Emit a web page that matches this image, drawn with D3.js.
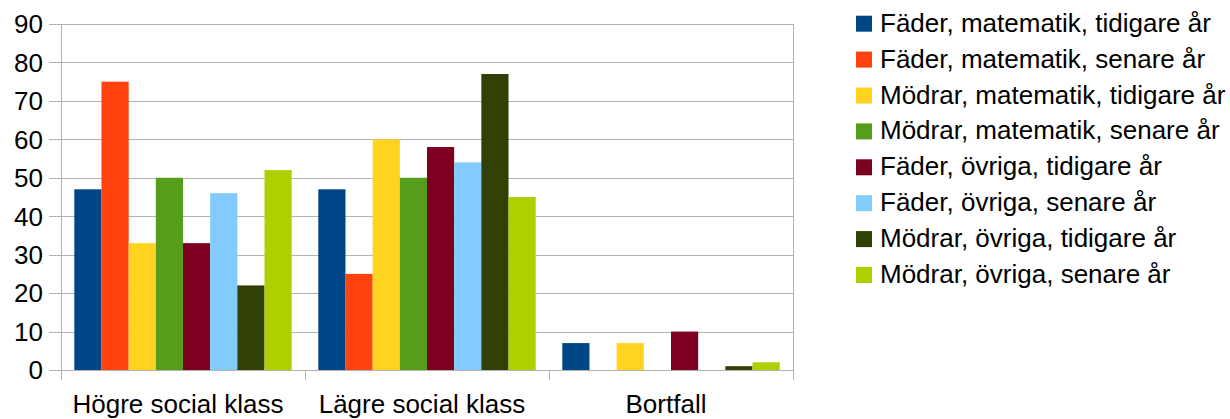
<!DOCTYPE html>
<html>
<head>
<meta charset="utf-8">
<script src="https://cdn.jsdelivr.net/npm/d3@7"></script>
<style>
  html, body { margin: 0; padding: 0; background: #fff; }
  svg { display: block; font-family: "Liberation Sans", Arial, sans-serif; }
</style>
</head>
<body>
<svg id="chart" width="1230" height="419"></svg>
<script>
const categories = ["Högre social klass", "Lägre social klass", "Bortfall"];
const seriesNames = [
  "Fäder, matematik, tidigare år",
  "Fäder, matematik, senare år",
  "Mödrar, matematik, tidigare år",
  "Mödrar, matematik, senare år",
  "Fäder, övriga, tidigare år",
  "Fäder, övriga, senare år",
  "Mödrar, övriga, tidigare år",
  "Mödrar, övriga, senare år"
];
const faderMatTidigare  = [47, 47, 7];
const faderMatSenare    = [75, 25, 0];
const modrarMatTidigare = [33, 60, 7];
const modrarMatSenare   = [50, 50, 0];
const faderOvrTidigare  = [33, 58, 10];
const faderOvrSenare    = [46, 54, 0];
const modrarOvrTidigare = [22, 77, 1];
const modrarOvrSenare   = [52, 45, 2];
const seriesValues = [faderMatTidigare, faderMatSenare, modrarMatTidigare, modrarMatSenare,
                      faderOvrTidigare, faderOvrSenare, modrarOvrTidigare, modrarOvrSenare];
const colors = ["#004586", "#ff420e", "#ffd320", "#579d1c", "#7e0021", "#83caff", "#314004", "#aecf00"];
const yTicks = [0, 10, 20, 30, 40, 50, 60, 70, 80, 90];

const svg = d3.select("#chart");
const mLeft = 61, mRight = 793, mTop = 24, mBottom = 370;
const gridColor = "#b3b3b3";
const fontSize = 26;

const x0 = d3.scaleBand().domain(categories).range([mLeft, mRight]).paddingInner(0).paddingOuter(0);
const x1 = d3.scaleBand().domain(seriesNames).range([0, x0.bandwidth()]).paddingInner(0).paddingOuter(0.49);
const y = d3.scaleLinear().domain([0, 90]).range([mBottom, mTop]);

// gridlines
svg.append("g").selectAll("line").data(yTicks).join("line")
  .attr("x1", mLeft - 12).attr("x2", mRight)
  .attr("y1", d => Math.round(y(d)) + 0.5).attr("y2", d => Math.round(y(d)) + 0.5)
  .attr("stroke", gridColor).attr("stroke-width", 1);

// vertical borders and category ticks
const tickXs = categories.map(c => x0(c)).concat([x0(categories[categories.length - 1]) + x0.bandwidth()]);
svg.append("g").selectAll("line").data(tickXs).join("line")
  .attr("x1", d => Math.round(d) + 0.5).attr("x2", d => Math.round(d) + 0.5)
  .attr("y1", (d, i) => (i === 0 || i === tickXs.length - 1) ? Math.round(y(90)) : mBottom)
  .attr("y2", mBottom + 10)
  .attr("stroke", gridColor).attr("stroke-width", 1);

// bars
const rows = [];
categories.forEach((c, ci) => seriesNames.forEach((s, si) => rows.push({c, s, si, v: seriesValues[si][ci]})));
svg.append("g").selectAll("rect").data(rows.filter(d => d.v > 0)).join("rect")
  .attr("x", d => x0(d.c) + x1(d.s))
  .attr("width", x1.bandwidth())
  .attr("y", d => y(d.v))
  .attr("height", d => y(0) - y(d.v))
  .attr("fill", d => colors[d.si]);

// baseline redraw
svg.append("line").attr("x1", mLeft - 12).attr("x2", mRight)
  .attr("y1", Math.round(y(0)) + 0.5).attr("y2", Math.round(y(0)) + 0.5)
  .attr("stroke", gridColor);

// y tick labels
svg.append("g").selectAll("text").data(yTicks).join("text")
  .attr("x", 43).attr("y", d => y(d)).attr("dy", "0.36em")
  .attr("text-anchor", "end").attr("font-size", fontSize).attr("fill", "#000")
  .text(d => d);

// category labels
svg.append("g").selectAll("text").data(categories).join("text")
  .attr("x", d => x0(d) + x0.bandwidth() / 2 - 5).attr("y", 412.5)
  .attr("text-anchor", "middle").attr("font-size", fontSize).attr("fill", "#000")
  .text(d => d);

// legend
const lg = svg.append("g");
const rowH = 35.9;
const items = lg.selectAll("g").data(seriesNames).join("g")
  .attr("transform", (d, i) => `translate(856, ${15.7 + i * rowH})`);
items.append("rect").attr("width", 16).attr("height", 16).attr("fill", (d, i) => colors[i]);
items.append("text").attr("x", 24).attr("y", 16).attr("font-size", fontSize).attr("fill", "#000")
  .text(d => d);
</script>
</body>
</html>
